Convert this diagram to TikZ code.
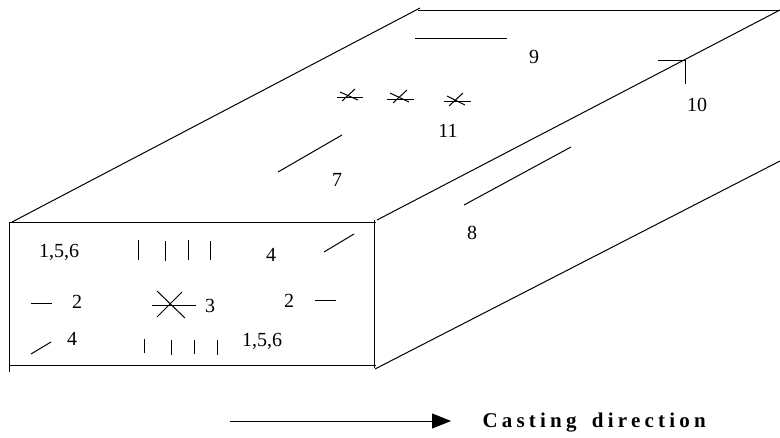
\documentclass[tikz,border=0pt]{standalone}
\usepackage{fontspec}
\setmainfont{Liberation Serif}
\newfontfamily\castfont[LetterSpace=20]{Liberation Serif}
\usetikzlibrary{arrows.meta}
\tikzset{
  lab/.style={inner sep=0pt, font=\fontsize{20}{22}\selectfont},
  caplab/.style={inner sep=0pt, anchor=west, font=\fontsize{21}{23}\selectfont\castfont\bfseries}
}

\begin{document}
\begin{tikzpicture}[x=1pt, y=-1pt, >=Stealth, line width=1pt]
    \useasboundingbox (0,0) rectangle (780,437);
    % front face
    \draw (9,222) -- (9,372);
    \draw (9,222) -- (376,222);
    \draw (9,365) -- (376,365);
    \draw (374,220) -- (374,368);
    % top and side edges
    \draw (12,222) -- (420,8);
    \draw (418,10) -- (780,10);
    \draw (377,220) -- (780,10);
    \draw (375,369) -- (780,161);
    % front face marks
    \draw (138,240) -- (138,260);
    \draw (165,241) -- (165,261);
    \draw (188,240) -- (188,260);
    \draw (210,241) -- (210,260);
    \draw (144,339) -- (144,353);
    \draw (171,340) -- (171,355);
    \draw (194,340) -- (194,354);
    \draw (217,340) -- (217,355);
    \draw (324,252) -- (354,234);
    \draw (31,354) -- (51,342);
    \draw (31,303) -- (52,303);
    \draw (315,300) -- (336,300);
    \draw (152,305) -- (196,305);
    \draw (157,291) -- (185,318);
    \draw (157,317) -- (182,292);
    % top face marks
    \draw (415,38) -- (507,38);
    \draw (278,172) -- (342,135);
    \draw (337,97) -- (363,97);
    \draw (355,89) -- (342,101);
    \draw (340,92) -- (358,100);
    \draw (387,99) -- (414,99);
    \draw (407,90) -- (393,103);
    \draw (390,93) -- (409,102);
    \draw (444,101) -- (471,101);
    \draw (463,93) -- (449,106);
    \draw (447,96) -- (465,105);
    % side face marks
    \draw (464,205) -- (571,147);
    \draw (658,60) -- (685,60);
    \draw (685,60) -- (685,84);
    % labels
    \node[lab] (tl156) at (59,252) {1,5,6};
    \node[lab] (tr4) at (271,255) {4};
    \node[lab] (ml2) at (77,302) {2};
    \node[lab] (mc3) at (210,306) {3};
    \node[lab] (mr2) at (289,301) {2};
    \node[lab] (bl4) at (72,339) {4};
    \node[lab] (br156) at (262,341) {1,5,6};
    \node[lab] (top7) at (337,180) {7};
    \node[lab] (side8) at (472,233) {8};
    \node[lab] (top9) at (534,57) {9};
    \node[lab] (side10) at (697,105) {10};
    \node[lab] (top11) at (448,131) {11};
    % casting direction
    \coordinate (castA) at (230,421);
    \coordinate (castB) at (451,421);
    \draw[-{Triangle[length=19pt,width=15pt]}] (castA) -- (castB);
    \node[caplab] (cast) at (482,423) {Casting\hspace{6pt} direction};
  \end{tikzpicture}
\end{document}
